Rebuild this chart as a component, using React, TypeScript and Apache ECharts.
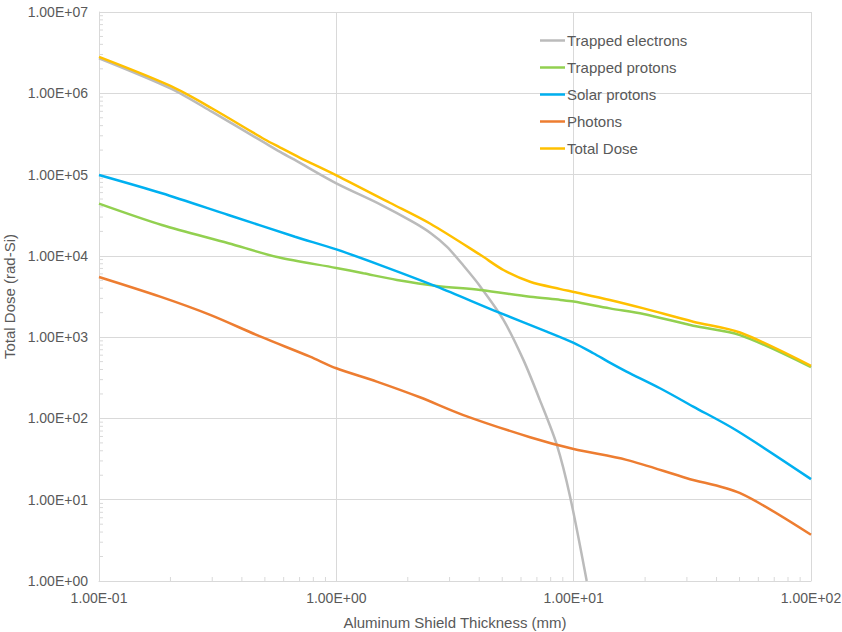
import React, { useEffect, useRef } from "react";
import * as echarts from "echarts";

// ---- Data ----
const electronsX = [0.1, 0.2, 0.3, 0.5, 0.58, 0.7, 1, 1.53, 2.11, 2.5, 2.92, 3.43, 4.04, 5.06, 6.14, 7.2, 8.5, 9.66, 11.35];
const electronsY = [2.7e6, 1.15e6, 5.9e5, 2.45e5, 1.9e5, 1.4e5, 7.8e4, 4.3e4, 2.6e4, 1.9e4, 1.3e4, 7.6e3, 4.2e3, 1.63e3, 525, 169, 47, 10.9, 1];

const trappedX = [0.1, 0.184, 0.351, 0.57, 1, 1.3, 1.8, 2.65, 4.04, 6.55, 8.8, 10, 14.2, 19.7, 31.9, 50.2, 100];
const trappedY = [4.4e4, 2.4e4, 1.43e4, 9.6e3, 7.1e3, 6.1e3, 5.06e3, 4.27e3, 3.8e3, 3.15e3, 2.87e3, 2.74e3, 2.26e3, 1.93e3, 1.38e3, 1.06e3, 427];

const solarX = [0.1, 0.184, 0.351, 0.67, 1, 1.53, 2.65, 4.74, 7.7, 10, 12.1, 14.2, 16.7, 23.1, 31.9, 48.6, 100];
const solarY = [9.9e4, 5.9e4, 3.18e4, 1.72e4, 1.2e4, 7.7e3, 4.18e3, 2.06e3, 1.17e3, 850, 634, 486, 377, 235, 140, 71, 17.9];

const photonsX = [0.1, 0.181, 0.294, 0.477, 0.775, 1, 1.48, 2.25, 3.43, 6.55, 10, 16.7, 30, 50, 100];
const photonsY = [5.5e3, 3.15e3, 1.88e3, 1.02e3, 575, 414, 284, 182, 110, 58.7, 42, 30.9, 18.4, 12.1, 3.7];

const totalX = [0.1, 0.2, 0.3, 0.5, 0.58, 0.7, 1, 1.68, 2.48, 4.04, 5.06, 6.55, 8.8, 10, 14.2, 19.7, 31.9, 50.2, 100];
const totalY = [2.8e6, 1.23e6, 6.5e5, 2.7e5, 2.15e5, 1.62e5, 9.8e4, 4.5e4, 2.5e4, 1.03e4, 6.7e3, 4.8e3, 3.9e3, 3.6e3, 2.87e3, 2.26e3, 1.55e3, 1.14e3, 443];

const seriesNames = ["Trapped electrons", "Trapped protons", "Solar protons", "Photons", "Total Dose"];
const seriesColors = ["#BBBBBB", "#92D050", "#00B0F0", "#ED7D31", "#FFC000"];

// minor tick helpers
const minorFactors = [2, 3, 4, 5, 6, 7, 8, 9];
const yDecades = [1, 10, 100, 1e3, 1e4, 1e5, 1e6];
const xDecades = [0.1, 1, 10];

const FONT = "'Liberation Sans', Arial, sans-serif";
const TEXT = "#595959";
const GRID = "#D9D9D9";

const sci = (v: number) => {
  const e = Math.round(Math.log10(v));
  return "1.00E" + (e < 0 ? "-" : "+") + String(Math.abs(e)).padStart(2, "0");
};

const zip = (xs: number[], ys: number[]) => xs.map((x, i) => [x, ys[i]]);

export default function App() {
  const ref = useRef<HTMLDivElement>(null);
  useEffect(() => {
    if (!ref.current) return;
    const chart = echarts.init(ref.current, null, { renderer: "svg" });
    const datas = [
      zip(electronsX, electronsY),
      zip(trappedX, trappedY),
      zip(solarX, solarY),
      zip(photonsX, photonsY),
      zip(totalX, totalY),
    ];
    const lineSeries = seriesNames.map((name, i) => ({
      name,
      type: "line",
      data: datas[i],
      symbol: "none",
      smooth: 0.3,
      color: seriesColors[i],
      lineStyle: { color: seriesColors[i], width: 2.5 },
      z: i === 0 ? 2 : 3 + i,
    }));
    const yMinor = yDecades.flatMap((d) => minorFactors.map((f) => [0.1, d * f]));
    const xMinor = xDecades.flatMap((d) => minorFactors.map((f) => [d * f, 1]));
    const tickSeries = (data: number[][], vertical: boolean) => ({
      type: "custom",
      silent: true,
      clip: false,
      z: 1,
      data,
      renderItem: (_p: any, api: any) => {
        const pt = api.coord([api.value(0), api.value(1)]);
        return {
          type: "line",
          shape: vertical
            ? { x1: pt[0], y1: pt[1], x2: pt[0], y2: pt[1] - 4 }
            : { x1: pt[0], y1: pt[1], x2: pt[0] + 4, y2: pt[1] },
          style: { stroke: GRID, lineWidth: 1 },
        };
      },
    });
    chart.setOption({
      animation: false,
      textStyle: { fontFamily: FONT },
      grid: { left: 99, right: 31, top: 12, bottom: 51, outerBoundsMode: "none", containLabel: false },
      legend: {
        data: seriesNames,
        orient: "vertical",
        left: 535,
        top: 28,
        itemWidth: 25,
        itemHeight: 14,
        itemGap: 12,
        icon: "path://M0,0 L25,0 L25,2.5 L0,2.5 Z",
        textStyle: { color: TEXT, fontSize: 15, fontFamily: FONT, padding: [0, 0, 0, -3] },
      },
      xAxis: {
        type: "log",
        logBase: 10,
        min: 0.1,
        max: 100,
        name: "Aluminum Shield Thickness (mm)",
        nameLocation: "middle",
        nameGap: 34,
        nameTextStyle: { color: TEXT, fontSize: 15, fontFamily: FONT },
        axisLine: { lineStyle: { color: GRID, width: 1 } },
        axisTick: { show: false },
        axisLabel: { color: TEXT, fontSize: 14, fontFamily: FONT, margin: 10, formatter: sci },
        splitLine: { show: true, lineStyle: { color: GRID, width: 1 } },
      },
      yAxis: {
        type: "log",
        logBase: 10,
        min: 1,
        max: 1e7,
        name: "Total Dose (rad-Si)",
        nameLocation: "middle",
        nameGap: 75,
        nameTextStyle: { color: TEXT, fontSize: 15, fontFamily: FONT },
        axisLine: { show: true, lineStyle: { color: GRID, width: 1 } },
        axisTick: { show: false },
        axisLabel: { color: TEXT, fontSize: 14, fontFamily: FONT, margin: 11, formatter: sci },
        splitLine: { show: true, lineStyle: { color: GRID, width: 1 } },
      },
      series: [...lineSeries, tickSeries(yMinor, false), tickSeries(xMinor, true)],
    });
    return () => chart.dispose();
  }, []);
  return (
    <div
      ref={ref}
      style={{ position: "fixed", left: 0, top: 0, width: 842, height: 632, background: "#fff" }}
    />
  );
}
